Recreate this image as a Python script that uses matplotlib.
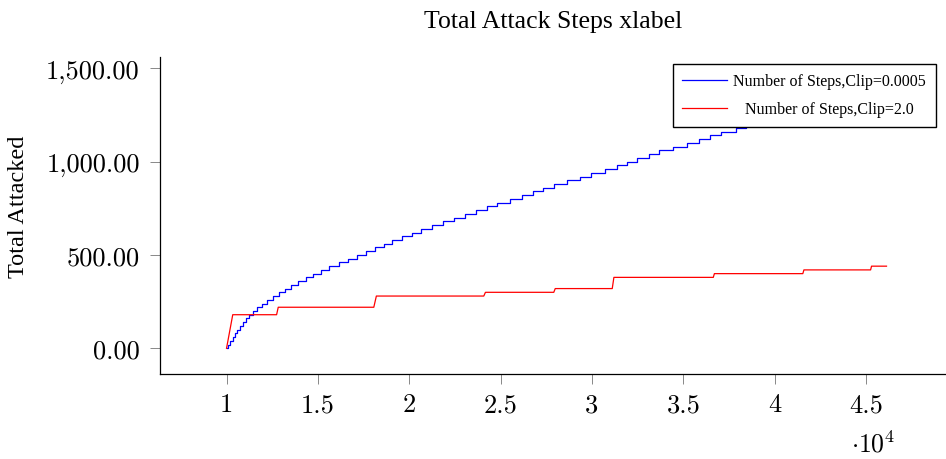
import matplotlib.pyplot as plt
from matplotlib.ticker import FixedLocator, FuncFormatter

plt.rcParams['mathtext.fontset'] = 'cm'

# blue: clip=0.0005, step positions
blue_x = [10000, 10071, 10181, 10328, 10438, 10586, 10728, 10876, 11056, 11242,
          11461, 11680, 11932, 12228, 12556, 12884, 13213, 13541, 13902, 14340,
          14745, 15145, 15582, 16146, 16622, 17153, 17646, 18100, 18609, 19069,
          19578, 20125, 20656, 21220, 21838, 22462, 23026, 23666, 24230, 24815,
          25489, 26162, 26786, 27295, 27935, 28647, 29336, 29960, 30688, 31345,
          31892, 32478, 33113, 33682, 34427, 35215, 35849, 36451, 37075, 37858,
          38422, 39000]
blue_y = [0, 20, 40, 60, 80, 100, 120, 140, 160, 180,
          200, 220, 240, 260, 280, 300, 320, 340, 360, 380,
          400, 420, 440, 460, 480, 500, 520, 540, 560, 580,
          600, 620, 640, 660, 680, 700, 720, 740, 760, 780,
          800, 820, 840, 860, 880, 900, 920, 940, 960, 980,
          1000, 1020, 1040, 1060, 1080, 1100, 1120, 1140, 1160, 1180,
          1200, 1200]

# red: clip=2.0
red_x = [10000, 10340, 12740, 12830, 18060, 18200, 24080, 24170, 27910, 27990,
         31110, 31200, 36640, 36700, 41540, 41600, 45250, 45300, 46120]
red_y = [0, 180, 180, 220, 220, 280, 280, 300, 300, 320,
         320, 380, 380, 400, 400, 420, 420, 440, 440]

xticks = [10000, 15000, 20000, 25000, 30000, 35000, 40000, 45000]
yticks = [0, 500, 1000, 1500]

fig = plt.figure(figsize=(9.46, 4.6), dpi=100)
ax = fig.add_axes([0.169, 0.1854, 0.831, 0.688])

ax.plot(blue_x, blue_y, color='blue', lw=0.9, drawstyle='steps-post',
        label='Number of Steps,Clip=0.0005')
ax.plot(red_x, red_y, color='red', lw=0.9, label='Number of Steps,Clip=2.0')

ax.set_xlim(6352, 49376)
ax.set_ylim(-136, 1559)

ax.xaxis.set_major_locator(FixedLocator(xticks))
ax.yaxis.set_major_locator(FixedLocator(yticks))
ax.xaxis.set_major_formatter(FuncFormatter(lambda v, p: ('%g' % (v / 1e4))))
ax.yaxis.set_major_formatter(FuncFormatter(lambda v, p: '{:,.2f}'.format(v)))

ax.spines['top'].set_visible(False)
ax.spines['right'].set_visible(False)
for s in ['left', 'bottom']:
    ax.spines[s].set_linewidth(0.9)
ax.tick_params(direction='out', length=7.5, width=0.7, color='#888888',
               labelsize=19, labelfontfamily='cmr10')
ax.tick_params(axis='x', pad=6)
ax.tick_params(axis='y', pad=7)

ax.text(0.907, -0.222, r'$\cdot 10^{4}$', transform=ax.transAxes,
        fontsize=18.5, ha='center', va='center')

ax.set_title('Total Attack Steps xlabel', fontsize=18.5,
             family='Liberation Serif', pad=22)
ax.set_ylabel('Total Attacked', fontsize=17.5, family='Liberation Serif')
ax.yaxis.set_label_coords(-0.166, 0.53)

leg = ax.legend(loc='upper right', bbox_to_anchor=(0.987, 0.979),
                borderaxespad=0, fancybox=False, edgecolor='black',
                framealpha=1, prop={'family': 'Liberation Serif', 'size': 11.5},
                handlelength=2.8, handletextpad=0.4, labelspacing=0.75,
                borderpad=0.6)
leg.get_frame().set_linewidth(1.0)
leg.texts[1].set_x(12)

fig.savefig('out.png', dpi=100)
